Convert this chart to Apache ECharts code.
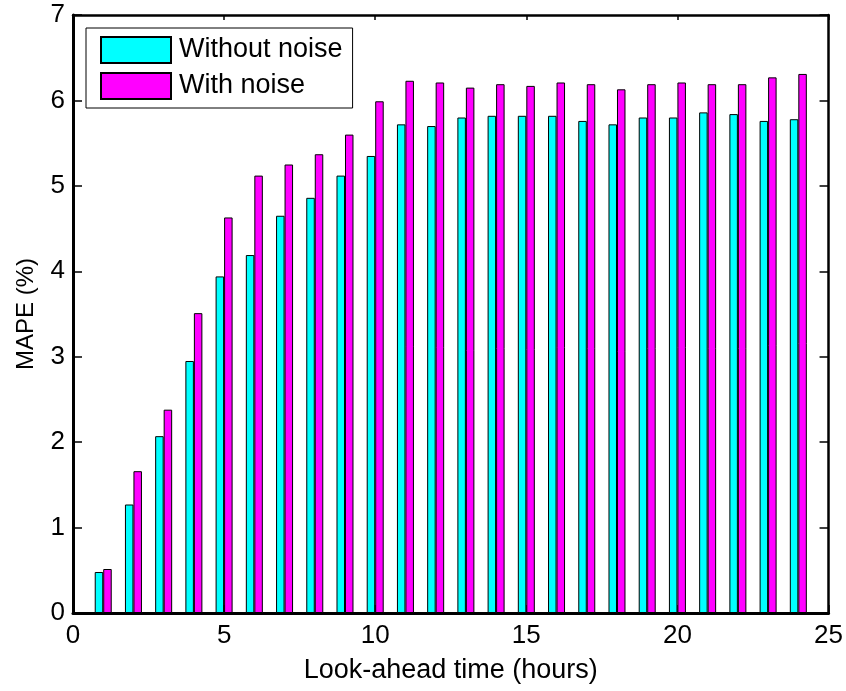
<!DOCTYPE html>
<html>
<head>
<meta charset="utf-8">
<script src="https://cdn.jsdelivr.net/npm/echarts@6/dist/echarts.min.js"></script>
<style>
  html, body { margin: 0; padding: 0; background: #fff; }
  #chart { width: 846px; height: 691px; }
</style>
</head>
<body>
<div id="chart"></div>
<script>
// Forecast horizon (hours) and MAPE (%) for each model variant
const hours = [1, 2, 3, 4, 5, 6, 7, 8, 9, 10, 11, 12, 13, 14, 15, 16, 17, 18, 19, 20, 21, 22, 23, 24];
const withoutNoise = [0.48, 1.27, 2.07, 2.95, 3.94, 4.19, 4.65, 4.86, 5.12, 5.35, 5.72, 5.70,
                      5.80, 5.82, 5.82, 5.82, 5.76, 5.72, 5.80, 5.80, 5.86, 5.84, 5.76, 5.78];
const withNoise = [0.515, 1.66, 2.38, 3.51, 4.63, 5.12, 5.25, 5.37, 5.60, 5.99, 6.23, 6.21,
                   6.15, 6.19, 6.17, 6.21, 6.19, 6.13, 6.19, 6.21, 6.19, 6.19, 6.27, 6.31];
const seriesNames = ['Without noise', 'With noise'];
const xTicks = { min: 0, max: 25, interval: 5 };
const yTicks = { min: 0, max: 7, interval: 1 };

const FONT = "'Liberation Sans', Arial, sans-serif";
const mainAxisLine = { color: '#000', width: 3 };
const boxAxisLine = { color: '#000', width: 2.5 };
const tickStyle = { color: '#000', width: 1.5 };

const chart = echarts.init(document.getElementById('chart'), null, { renderer: 'canvas' });

chart.setOption({
  backgroundColor: '#fff',
  animation: false,
  textStyle: { fontFamily: FONT, color: '#000' },
  grid: { left: 73, right: 16, top: 15, bottom: 78, containLabel: false },
  legend: {
    orient: 'vertical',
    left: 86,
    top: 28,
    padding: [8, 10, 8, 14],
    itemGap: 8,
    itemWidth: 70,
    itemHeight: 26,
    icon: 'rect',
    backgroundColor: '#fff',
    borderColor: '#000',
    borderWidth: 1,
    textStyle: { fontFamily: FONT, fontSize: 27, color: '#000', padding: [0, 0, 0, 3] },
    data: seriesNames
  },
  xAxis: [
    {
      type: 'value',
      min: xTicks.min, max: xTicks.max, interval: xTicks.interval,
      name: 'Look-ahead time (hours)',
      nameLocation: 'middle',
      nameGap: 44,
      nameTextStyle: { fontFamily: FONT, fontSize: 27, color: '#000' },
      axisLine: { show: true, onZero: false, lineStyle: mainAxisLine },
      axisTick: { show: true, inside: true, length: 8, lineStyle: tickStyle },
      axisLabel: { fontFamily: FONT, fontSize: 26, color: '#000', margin: 10 },
      splitLine: { show: false }
    },
    {
      type: 'value',
      position: 'top',
      min: xTicks.min, max: xTicks.max, interval: xTicks.interval,
      axisLine: { show: true, onZero: false, lineStyle: boxAxisLine },
      axisTick: { show: true, inside: true, length: 5, lineStyle: tickStyle },
      axisLabel: { show: false },
      splitLine: { show: false }
    }
  ],
  yAxis: [
    {
      type: 'value',
      min: yTicks.min, max: yTicks.max, interval: yTicks.interval,
      name: 'MAPE (%)',
      nameLocation: 'middle',
      nameGap: 35,
      nameTextStyle: { fontFamily: FONT, fontSize: 24, color: '#000' },
      axisLine: { show: true, onZero: false, lineStyle: mainAxisLine },
      axisTick: { show: true, inside: true, length: 9, lineStyle: tickStyle },
      axisLabel: { fontFamily: FONT, fontSize: 26, color: '#000', margin: 8 },
      splitLine: { show: false }
    },
    {
      type: 'value',
      position: 'right',
      min: yTicks.min, max: yTicks.max, interval: yTicks.interval,
      axisLine: { show: true, onZero: false, lineStyle: boxAxisLine },
      axisTick: { show: true, inside: true, length: 9, lineStyle: tickStyle },
      axisLabel: { show: false },
      splitLine: { show: false }
    }
  ],
  series: [
    {
      name: seriesNames[0],
      type: 'bar',
      xAxisIndex: 0,
      yAxisIndex: 0,
      barWidth: 8.5,
      barGap: '0%',
      itemStyle: { color: '#00ffff', borderColor: '#000', borderWidth: 1 },
      data: hours.map((h, i) => [h, withoutNoise[i]])
    },
    {
      name: seriesNames[1],
      type: 'bar',
      xAxisIndex: 0,
      yAxisIndex: 0,
      barWidth: 8.5,
      barGap: '0%',
      itemStyle: { color: '#ff00ff', borderColor: '#000', borderWidth: 1 },
      data: hours.map((h, i) => [h, withNoise[i]])
    }
  ]
});
</script>
</body>
</html>
